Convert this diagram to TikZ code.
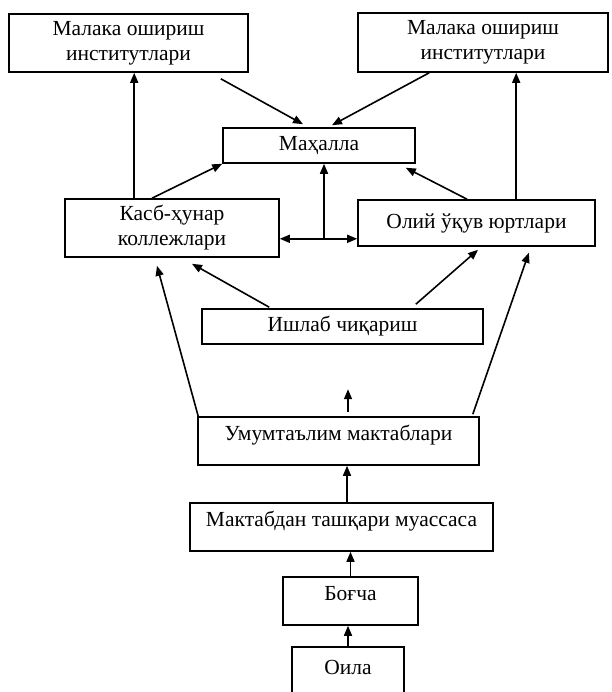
\documentclass[tikz,border=0pt]{standalone}
\usepackage{fontspec}
\setmainfont{Liberation Serif}
\usetikzlibrary{arrows.meta,calc}
\begin{document}
\begin{tikzpicture}[x=1pt,y=-1pt,
  box/.style={draw,line width=1.6pt,inner sep=0pt,align=center,
    font=\fontsize{21.5}{25}\selectfont},
  upshift/.style={text height=14pt,text depth=16pt},
  arr/.style={line width=1.6pt,-{Triangle[length=10pt,width=8pt]}}]
\clip (0,0) rectangle (611,692);
\fill[white] (0,0) rectangle (611,692);
\node[box,minimum width=239pt,minimum height=58pt] (malL) at (128.5,43) {Малака ошириш\\институтлари};
\node[box,minimum width=250pt,minimum height=59pt] (malR) at (483,42.5) {Малака ошириш\\институтлари};
\node[box,minimum width=192pt,minimum height=35pt] (mah) at (319,145.5) {Маҳалла};
\node[box,minimum width=214pt,minimum height=58pt] (kasb) at (172,228) {Касб-ҳунар\\коллежлари};
\node[box,minimum width=237pt,minimum height=46pt] (oliy) at (476.5,223) {Олий ўқув юртлари};
\node[box,minimum width=281pt,minimum height=35pt] (ishlab) at (342.5,326.5) {Ишлаб чиқариш};
\node[box,upshift,minimum width=281pt,minimum height=48pt] (umum) at (338.5,441) {Умумтаълим мактаблари};
\node[box,upshift,minimum width=303pt,minimum height=48pt] (makt) at (341.5,527) {Мактабдан ташқари муассаса};
\node[box,upshift,minimum width=135pt,minimum height=48pt] (bog) at (350.5,601) {Боғча};
\node[box,upshift,minimum width=112pt,minimum height=56pt] (oila) at (348,675) {Оила};
% junction and free arrow
\coordinate (J) at ($(mah.south)+(5,75)$);
\coordinate (fa) at ($(umum.north)+(9.5,-4)$);
\coordinate (fb) at ($(umum.north)+(9.5,-27)$);
\coordinate (kL) at ($(kasb.north west)+(70,0)$);
\coordinate (oR) at ($(oliy.north west)+(159,0)$);
\coordinate (mU) at ($(makt.north)+(5.5,0)$);
% connectors
\draw[arr] (kL) -- (kL |- malL.south);
\draw[arr] ($(malL.south east)+(-28,6)$) -- ($(mah.north)+(-16,-3)$);
\draw[arr] ($(malR.south west)+(72,0)$) -- ($(mah.north)+(13,-2)$);
\draw[arr] ($(kasb.north)+(-20,0)$) -- (mah.south west);
\draw[arr] ($(oliy.north)+(-9.5,0)$) -- ($(mah.south east)+(-10,4)$);
\draw[arr] (oR) -- (oR |- malR.south);
\draw[arr] (J) -- (J |- mah.south);
\draw[arr] (J) -- (kasb.east |- J);
\draw[arr] (J) -- (oliy.west |- J);
\draw[arr] ($(ishlab.north west)+(68,-1)$) -- ($(kasb.south)+(20,6)$);
\draw[arr] ($(ishlab.north east)+(-68,-4)$) -- ($(oliy.south)+(1.5,3)$);
\draw[arr] ($(umum.north west)+(1,0)$) -- ($(kasb.south)+(-15,8)$);
\draw[arr] ($(umum.north east)+(-7,-2)$) -- ($(oliy.south east)+(-67,6)$);
\draw[arr] (fa) -- (fb);
\draw[arr] (mU) -- (mU |- umum.south);
\draw[arr] (bog.north) -- (bog.north |- makt.south);
\draw[arr] (oila.north) -- (oila.north |- bog.south);
\end{tikzpicture}
\end{document}
